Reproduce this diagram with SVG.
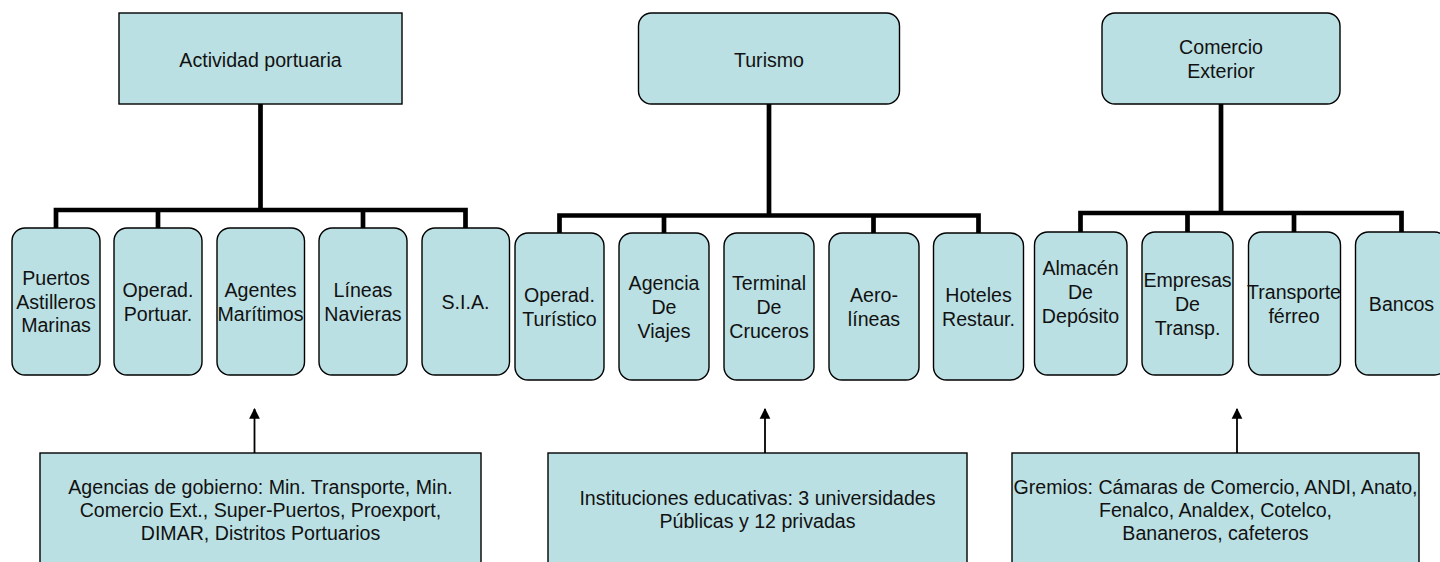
<svg xmlns="http://www.w3.org/2000/svg" width="1440" height="562" viewBox="0 0 1440 562">
<defs>
<style>
.box{fill:#BBE0E3;stroke:#000;stroke-width:1.4}
.t{font-family:"Liberation Sans",Arial,sans-serif;font-size:19.6px;fill:#111;text-anchor:middle}
.bar{stroke:#000;stroke-width:4.7;fill:none;stroke-linejoin:miter;stroke-linecap:square}
.arr{stroke:#000;stroke-width:1.8;fill:none}
</style>
<marker id="ah" viewBox="0 0 10 10" refX="9" refY="5" markerWidth="10.7" markerHeight="12" markerUnits="userSpaceOnUse" orient="auto">
<path d="M0,0 L10,5 L0,10 z" fill="#000"/>
</marker>
</defs>
<rect width="1440" height="562" fill="#fff"/>
<g id="connectors">
<path class="bar" d="M260.5,104 V210 M56,228 V210 H465.5 V228 M158,210 V228 M363,210 V228"/>
<path class="bar" d="M769,104 V215.5 M559.5,233 V215.5 H978.5 V233 M664,215.5 V233 M873.5,215.5 V233"/>
<path class="bar" d="M1221,104 V213 M1080.5,232 V213 H1401.5 V232 M1187.5,213 V232 M1294,213 V232"/>
<line class="arr" x1="254.5" y1="453" x2="254.5" y2="409" marker-end="url(#ah)"/>
<line class="arr" x1="765" y1="453" x2="765" y2="409" marker-end="url(#ah)"/>
<line class="arr" x1="1237" y1="453" x2="1237" y2="409" marker-end="url(#ah)"/>
</g>
<g id="actividad">
<rect class="box" x="119" y="13" width="283" height="91"/>
<text class="t" x="260.5" y="66.5">Actividad portuaria</text>
</g>
<g id="turismo">
<rect class="box" x="638.5" y="13" width="261" height="91" rx="13"/>
<text class="t" x="769" y="66.5">Turismo</text>
</g>
<g id="comercio">
<rect class="box" x="1102" y="13" width="238" height="91" rx="13"/>
<text class="t" x="1221" y="54">Comercio</text>
<text class="t" x="1221" y="78">Exterior</text>
</g>
<g id="puertos">
<rect class="box" x="12" y="228" width="88" height="147" rx="13"/>
<text class="t" x="56" y="285">Puertos</text>
<text class="t" x="56" y="308.5">Astilleros</text>
<text class="t" x="56" y="332">Marinas</text>
</g>
<g id="operad-portuar">
<rect class="box" x="114" y="228" width="88" height="147" rx="13"/>
<text class="t" x="158" y="297">Operad.</text>
<text class="t" x="158" y="320.5">Portuar.</text>
</g>
<g id="agentes">
<rect class="box" x="217" y="228" width="87.5" height="147" rx="13"/>
<text class="t" x="260.5" y="297">Agentes</text>
<text class="t" x="260.5" y="320.5">Marítimos</text>
</g>
<g id="lineas">
<rect class="box" x="319" y="228" width="88" height="147" rx="13"/>
<text class="t" x="363" y="297">Líneas</text>
<text class="t" x="363" y="320.5">Navieras</text>
</g>
<g id="sia">
<rect class="box" x="422" y="228" width="87.5" height="147" rx="13"/>
<text class="t" x="465.5" y="309">S.I.A.</text>
</g>
<g id="operad-turistico">
<rect class="box" x="515" y="233" width="89" height="147" rx="13"/>
<text class="t" x="559.5" y="302">Operad.</text>
<text class="t" x="559.5" y="326">Turístico</text>
</g>
<g id="agencia">
<rect class="box" x="619" y="233" width="90" height="147" rx="13"/>
<text class="t" x="664" y="290">Agencia</text>
<text class="t" x="664" y="314">De</text>
<text class="t" x="664" y="338">Viajes</text>
</g>
<g id="terminal">
<rect class="box" x="724" y="233" width="90" height="147" rx="13"/>
<text class="t" x="769" y="290">Terminal</text>
<text class="t" x="769" y="314">De</text>
<text class="t" x="769" y="338">Cruceros</text>
</g>
<g id="aerolineas">
<rect class="box" x="829" y="233" width="90" height="147" rx="13"/>
<text class="t" x="874" y="302">Aero-</text>
<text class="t" x="874" y="326">líneas</text>
</g>
<g id="hoteles">
<rect class="box" x="933.5" y="233" width="90" height="147" rx="13"/>
<text class="t" x="978.5" y="302">Hoteles</text>
<text class="t" x="978.5" y="326">Restaur.</text>
</g>
<g id="almacen">
<rect class="box" x="1034.5" y="232" width="92.5" height="143" rx="13"/>
<text class="t" x="1080.5" y="275">Almacén</text>
<text class="t" x="1080.5" y="299">De</text>
<text class="t" x="1080.5" y="323">Depósito</text>
</g>
<g id="empresas">
<rect class="box" x="1142" y="232" width="91" height="143" rx="13"/>
<text class="t" x="1187.5" y="287">Empresas</text>
<text class="t" x="1187.5" y="311">De</text>
<text class="t" x="1187.5" y="335">Transp.</text>
</g>
<g id="ferreo">
<rect class="box" x="1248.5" y="232" width="92" height="143" rx="13"/>
<text class="t" x="1294" y="299">Transporte</text>
<text class="t" x="1294" y="323">férreo</text>
</g>
<g id="bancos">
<rect class="box" x="1355.5" y="232" width="92" height="143" rx="13"/>
<text class="t" x="1401.5" y="311">Bancos</text>
</g>
<g id="agencias-gobierno">
<rect class="box" x="40" y="453" width="441" height="120"/>
<text class="t" x="260.5" y="494">Agencias de gobierno: Min. Transporte, Min.</text>
<text class="t" x="260.5" y="517">Comercio Ext., Super-Puertos, Proexport,</text>
<text class="t" x="260.5" y="540">DIMAR, Distritos Portuarios</text>
</g>
<g id="instituciones">
<rect class="box" x="548" y="453" width="419" height="120"/>
<text class="t" x="757.5" y="505">Instituciones educativas: 3 universidades</text>
<text class="t" x="757.5" y="528">Públicas y 12 privadas</text>
</g>
<g id="gremios">
<rect class="box" x="1012" y="453" width="407" height="120"/>
<text class="t" x="1215.5" y="494">Gremios: Cámaras de Comercio, ANDI, Anato,</text>
<text class="t" x="1215.5" y="517">Fenalco, Analdex, Cotelco,</text>
<text class="t" x="1215.5" y="540">Bananeros, cafeteros</text>
</g>
</svg>
